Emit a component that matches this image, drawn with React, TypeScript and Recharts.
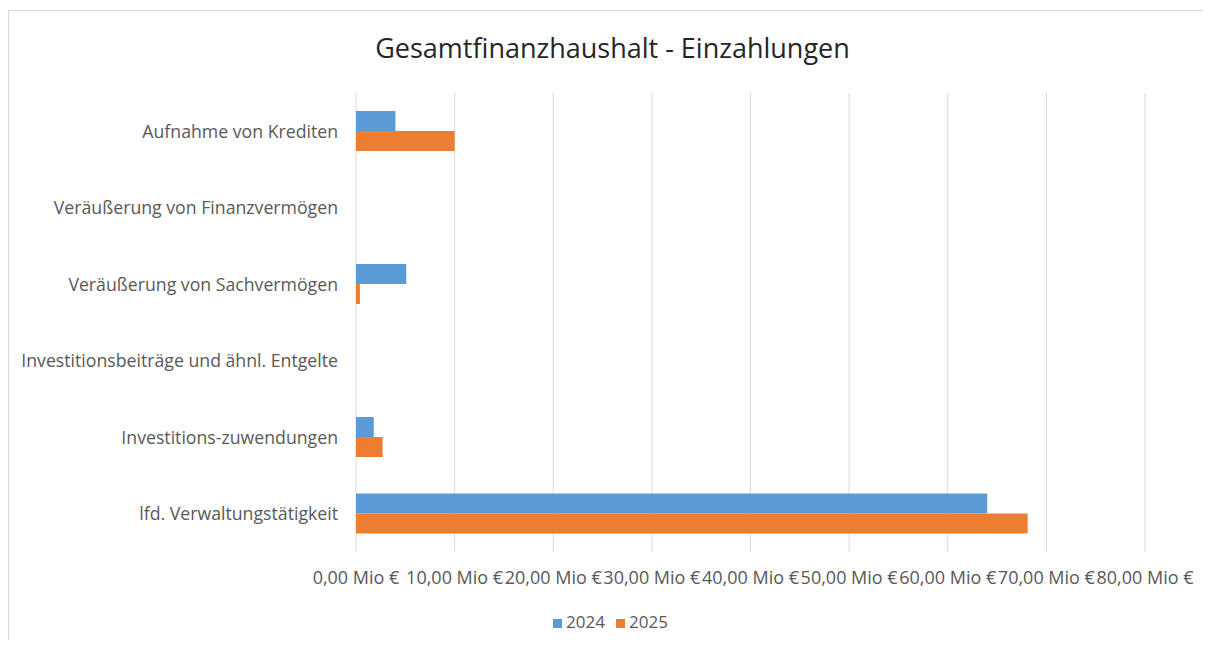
import React from 'react';
import {
  BarChart,
  Bar,
  XAxis,
  YAxis,
  CartesianGrid,
  Legend,
} from 'recharts';

const categories = [
  'Aufnahme von Krediten',
  'Veräußerung von Finanzvermögen',
  'Veräußerung von Sachvermögen',
  'Investitionsbeiträge und ähnl. Entgelte',
  'Investitions-zuwendungen',
  'lfd. Verwaltungstätigkeit',
];

// Mio €
const values2024 = [4.0, 0, 5.1, 0, 1.8, 64.0];
const values2025 = [10.0, 0, 0.4, 0, 2.7, 68.1];

const xTicks = [0, 10, 20, 30, 40, 50, 60, 70, 80];

const FONT = '"Open Sans", sans-serif';
const TEXT = '#595959';

const formatMio = (v: number) => `${v.toFixed(2).replace('.', ',')} Mio €`;

export default function App() {
  const data = categories.map((name, i) => ({
    name,
    y2024: values2024[i],
    y2025: values2025[i],
  }));

  return (
    <div
      style={{
        marginTop: 2,
        width: 1203,
        height: 630,
        boxSizing: 'border-box',
        borderTop: '1px solid #d9d9d9',
        borderLeft: '1px solid #d9d9d9',
        position: 'relative',
        fontFamily: FONT,
        background: '#fff',
      }}
    >
      <div
        style={{
          position: 'absolute',
          top: 19,
          left: 0,
          width: 1207,
          textAlign: 'center',
          fontSize: 27,
          color: '#262626',
          lineHeight: '36px',
        }}
      >
        Gesamtfinanzhaushalt - Einzahlungen
      </div>
      <BarChart
        width={1202}
        height={629}
        data={data}
        layout="vertical"
        margin={{ top: 82, right: 66, left: 0, bottom: 7 }}
        barSize={20}
        barGap={0}
      >
        <CartesianGrid horizontal={false} stroke="#d9d9d9" />
        <XAxis
          type="number"
          domain={[0, 80]}
          ticks={xTicks}
          interval={0}
          tickFormatter={formatMio}
          axisLine={false}
          tickLine={false}
          tickMargin={13}
          height={58}
          tick={{ fill: TEXT, fontSize: 18, fontFamily: FONT }}
        />
        <YAxis
          type="category"
          dataKey="name"
          width={347}
          axisLine={false}
          tickLine={false}
          tickMargin={12}
          interval={0}
          tick={{ fill: TEXT, fontSize: 17.7, fontFamily: FONT }}
        />
        <Legend
          verticalAlign="bottom"
          align="center"
          iconType="square"
          iconSize={9}
          wrapperStyle={{ left: 6, width: 1202 }}
          formatter={(value) => (
            <span style={{ color: TEXT, fontSize: 17, fontFamily: FONT, marginRight: 1 }}>
              {value}
            </span>
          )}
        />
        <Bar dataKey="y2024" name="2024" fill="#5B9BD5" isAnimationActive={false} />
        <Bar dataKey="y2025" name="2025" fill="#ED7D31" isAnimationActive={false} />
      </BarChart>
    </div>
  );
}
